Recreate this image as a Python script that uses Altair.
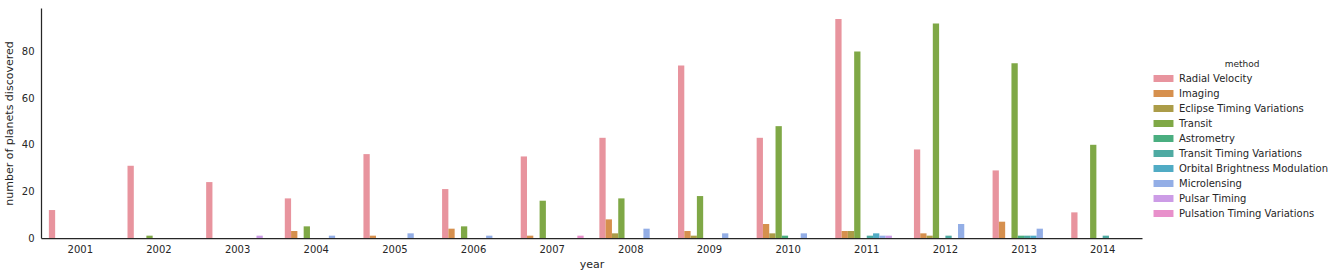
import altair as alt
import pandas as pd

years = ["2001", "2002", "2003", "2004", "2005", "2006", "2007",
         "2008", "2009", "2010", "2011", "2012", "2013", "2014"]

methods = ["Radial Velocity", "Imaging", "Eclipse Timing Variations", "Transit",
           "Astrometry", "Transit Timing Variations", "Orbital Brightness Modulation",
           "Microlensing", "Pulsar Timing", "Pulsation Timing Variations"]

radial_velocity = [12, 31, 24, 17, 36, 21, 35, 43, 74, 43, 94, 38, 29, 11]
imaging = [0, 0, 0, 3, 1, 4, 1, 8, 3, 6, 3, 2, 7, 0]
eclipse_timing = [0, 0, 0, 0, 0, 0, 0, 2, 1, 2, 3, 1, 0, 0]
transit = [0, 1, 0, 5, 0, 5, 16, 17, 18, 48, 80, 92, 75, 40]
astrometry = [0, 0, 0, 0, 0, 0, 0, 0, 0, 1, 0, 0, 1, 0]
transit_timing = [0, 0, 0, 0, 0, 0, 0, 0, 0, 0, 1, 1, 1, 1]
orbital_brightness = [0, 0, 0, 0, 0, 0, 0, 0, 0, 0, 2, 0, 1, 0]
microlensing = [0, 0, 0, 1, 2, 1, 0, 4, 2, 2, 1, 6, 4, 0]
pulsar_timing = [0, 0, 1, 0, 0, 0, 0, 0, 0, 0, 1, 0, 0, 0]
pulsation_timing = [0, 0, 0, 0, 0, 0, 1, 0, 0, 0, 0, 0, 0, 0]

colors = ["#e8949e", "#d6904e", "#ab9c48", "#7fa846", "#4aae80",
          "#4eaaa2", "#50abc4", "#93aee6", "#cc9ce6", "#e890cb"]

series = [radial_velocity, imaging, eclipse_timing, transit, astrometry,
          transit_timing, orbital_brightness, microlensing, pulsar_timing,
          pulsation_timing]

rows = []
for m, vals in zip(methods, series):
    for y, v in zip(years, vals):
        if v > 0:
            rows.append({"year": y, "method": m, "count": v})
df = pd.DataFrame(rows)

FONT = "DejaVu Sans"
TXT = "#262626"

chart = alt.Chart(df).mark_bar().encode(
    x=alt.X("year:N", sort=years,
            scale=alt.Scale(domain=years, paddingInner=0.2, paddingOuter=0.1),
            axis=alt.Axis(title="year", labelAngle=0, ticks=False, labelPadding=6,
                          titlePadding=4, labelFontSize=10, titleFontSize=11,
                          grid=False)),
    xOffset=alt.XOffset("method:N", sort=methods,
                        scale=alt.Scale(domain=methods, paddingInner=0, paddingOuter=0)),
    y=alt.Y("count:Q", scale=alt.Scale(domain=[0, 98.7], nice=False),
            axis=alt.Axis(title="number of planets discovered", values=[0, 20, 40, 60, 80],
                          ticks=False, labelPadding=7, titlePadding=7,
                          labelFontSize=10, titleFontSize=11, grid=False)),
    color=alt.Color("method:N", sort=methods,
                    scale=alt.Scale(domain=methods, range=colors),
                    legend=alt.Legend(title="method", orient="none",
                                      legendX=1115, legendY=52,
                                      symbolType="M-1.33,-0.47H1.33V0.47H-1.33Z",
                                      symbolSize=225, symbolStrokeWidth=0,
                                      symbolOpacity=1,
                                      labelFontSize=10, titleFontSize=9,
                                      titleFontWeight="normal", titleAnchor="middle",
                                      titlePadding=2,
                                      rowPadding=2, labelOffset=8, padding=0,
                                      labelColor=TXT, titleColor=TXT,
                                      labelFont=FONT, titleFont=FONT)),
).properties(
    width=1101, height=230,
    autosize=alt.AutoSizeParams(type="none"),
    padding={"left": 41, "top": 8, "right": 200, "bottom": 38},
    background="white",
).configure_view(stroke=None).configure_axis(
    grid=False, domainColor=TXT, domainWidth=1.25, labelColor=TXT, titleColor=TXT,
    labelFont=FONT, titleFont=FONT, titleFontWeight="normal"
)

chart.save("out.html", embed_options={"renderer": "svg", "actions": False})
